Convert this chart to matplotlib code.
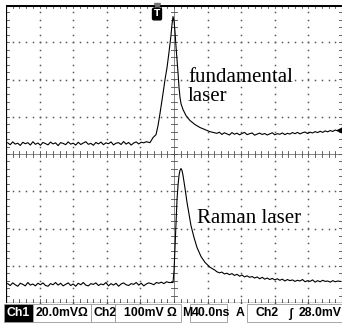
import numpy as np
import matplotlib
matplotlib.use("Agg")
import matplotlib.pyplot as plt
from matplotlib.patches import Rectangle

# 示波器设置
NS_PER_DIV = 40.0
CH1_MV_PER_DIV = 20.0
CH2_MV_PER_DIV = 100.0

# Ch1: 基频光 (时间 ns, 幅度 mV)
ch1_pre_t = np.arange(-198, -30, 3)
ch1_pre_mv = [0.4, -0.6, 0.9, -0.3, 0.2, -1.0, 0.7, -0.1, 0.5, -0.8,
              1.0, -0.4, 0.3, -0.9, 0.6, 0.0, -0.7, 0.8, -0.2, 0.4,
              -1.1, 0.5, 0.1, -0.6, 0.9, -0.3, 0.2, -0.8, 0.7, -0.5,
              0.3, 1.0, -0.4, 0.1, -0.9, 0.6, -0.2, 0.8, -0.6, 0.4,
              -0.1, 0.9, -0.7, 0.2, 0.5, -0.5, 1.1, -0.3, 0.6, -0.8,
              0.3, 0.9, -0.2, 0.7, 0.4, 1.0]
ch1_pulse_t = [-28.6, -25.0, -21.4, -19.0, -16.7, -13.1, -10.7, -8.3, -6.0, -3.6,
               -2.4, -1.2, 0.0, 1.2, 2.4, 3.6, 4.8, 6.0, 7.1, 8.3,
               10.7, 14.3, 19.0, 25.0, 31.0, 36.9, 42.8, 47.6]
ch1_pulse_mv = [0.5, 3.2, 4.8, 9.7, 16.1, 26.8, 34.4, 40.8, 48.9, 58.0,
                63.9, 68.2, 66.0, 60.0, 52.0, 45.0, 38.0, 30.0, 25.0, 21.5,
                18.3, 15.0, 12.4, 10.2, 8.6, 7.5, 6.4, 5.9]
ch1_tail_t = np.arange(51, 200, 3)
ch1_tail_mv = [5.5, 6.1, 4.9, 5.8, 5.2, 4.6, 5.9, 5.0, 5.6, 4.7,
               5.4, 6.0, 4.8, 5.3, 5.7, 4.5, 5.1, 5.6, 4.9, 5.4,
               4.6, 5.2, 5.8, 4.7, 5.3, 5.0, 5.7, 4.8, 5.5, 5.1,
               5.9, 5.3, 6.0, 5.2, 5.8, 6.2, 5.4, 6.1, 5.7, 6.4,
               5.9, 6.6, 6.0, 6.8, 6.3, 7.0, 6.5, 7.3, 6.8, 7.5]

# Ch2: 拉曼光
ch2_pre_t = np.arange(-198, -3, 3)
ch2_pre_mv = [2, -3, 4, -1, -5, 3, 0, -4, 5, -2,
              1, -4, 3, -1, 4, -3, -5, 2, -1, 5,
              -2, 3, -4, 0, 4, -3, 1, -5, 3, -1,
              5, -2, -4, 2, 0, 4, -3, 1, -1, 5,
              -4, 2, -2, 3, -5, 1, 4, -1, -3, 2,
              0, 5, -2, 3, -4, 1, 4, 2, -1, 5,
              3, 6, 2, 7, 5]
ch2_pulse_t = [-1.2, 0.0, 1.2, 2.4, 3.6, 4.8, 6.0, 7.1, 8.3, 9.5,
               10.7, 13.1, 15.5, 17.9, 20.2, 23.8, 27.4, 32.1, 36.9, 42.8, 48.8]
ch2_pulse_mv = [5, 35, 99, 169, 228, 266, 293, 306, 311, 306,
                293, 258, 220, 188, 158, 126, 99, 75, 59, 46, 38]
ch2_tail_t = np.arange(51, 200, 3)
ch2_tail_mv = [34, 31, 33, 28, 30, 26, 29, 24, 27, 22,
               25, 20, 23, 19, 21, 17, 20, 15, 19, 14,
               17, 13, 16, 12, 15, 11, 14, 9, 13, 10,
               12, 8, 11, 9, 13, 7, 10, 8, 12, 6,
               10, 7, 11, 8, 9, 6, 10, 7, 9, 8]

# 各通道基线在屏幕上的位置 (格)
CH1_OFFSET = 0.28
CH2_OFFSET = -3.5

W, H = 342, 325
fig = plt.figure(figsize=(W / 100, H / 100), dpi=100)
fig.patch.set_facecolor("white")

# 屏幕区域 (像素): 左6 右342 上5 下303
L, R, T, B = 6, 342, 5, 303
ax = fig.add_axes([L / W, (H - B) / H, (R - L) / W, (B - T) / H])
ax.set_xlim(-5, 5)
ax.set_ylim(-4, 4)
ax.set_xticks([])
ax.set_yticks([])
for s in ax.spines.values():
    s.set_visible(False)

grid_c = "0.35"
fine_x = np.arange(-5, 5.01, 0.2)
fine_y = np.arange(-4, 4.01, 0.2)
# 点状网格
for gx in range(-4, 5):
    if gx == 0:
        continue
    ax.plot(np.full_like(fine_y, gx), fine_y, ls="none", marker="s", ms=1.1,
            mec="none", color=grid_c)
for gy in range(-3, 4):
    if gy == 0:
        continue
    ax.plot(fine_x, np.full_like(fine_x, gy), ls="none", marker="s", ms=1.1,
            mec="none", color=grid_c)
# 中心十字线和刻度
ax.axhline(0, color="0.45", lw=0.6)
ax.axvline(0, color="0.45", lw=0.6)
for fx in fine_x:
    ax.plot([fx, fx], [-0.08, 0.08], color="0.3", lw=0.6)
    ax.plot([fx, fx], [3.92, 4], color="0.3", lw=0.6)
    ax.plot([fx, fx], [-4, -3.9], color="0.3", lw=0.6)
for fy in fine_y:
    ax.plot([-0.09, 0.09], [fy, fy], color="0.3", lw=0.6)
    ax.plot([-5, -4.91], [fy, fy], color="0.3", lw=0.6)
    ax.plot([4.91, 5], [fy, fy], color="0.3", lw=0.6)
# 边框
ax.plot([-5, 5], [4, 4], color="black", lw=2.2, solid_capstyle="butt")
ax.plot([-5, -5], [-4, 4], color="black", lw=1.6, solid_capstyle="butt")
ax.plot([-5, 5], [-4, -4], color="black", lw=1.0)
ax.plot([5, 5], [-4, 4], color="0.6", lw=0.8)

# 波形
ch1_t = np.concatenate([ch1_pre_t, ch1_pulse_t, ch1_tail_t])
ch1_v = np.concatenate([ch1_pre_mv, ch1_pulse_mv, ch1_tail_mv])
ch2_t = np.concatenate([ch2_pre_t, ch2_pulse_t, ch2_tail_t])
ch2_v = np.concatenate([ch2_pre_mv, ch2_pulse_mv, ch2_tail_mv])
ax.plot(ch1_t / NS_PER_DIV, CH1_OFFSET + ch1_v / CH1_MV_PER_DIV, color="black", lw=0.8)
ax.plot(ch2_t / NS_PER_DIV, CH2_OFFSET + ch2_v / CH2_MV_PER_DIV, color="black", lw=0.8)
ax.plot([4.93], [CH1_OFFSET + ch1_tail_mv[-1] / CH1_MV_PER_DIV], marker="<", ms=4,
        color="black")

# 标注
serif = "Liberation Serif"
ax.text(0.42, 1.92, "fundamental", family=serif, fontsize=15, ha="left", va="baseline")
ax.text(0.42, 1.41, "laser", family=serif, fontsize=15, ha="left", va="baseline")
ax.text(0.68, -1.86, "Raman laser", family=serif, fontsize=15, ha="left", va="baseline")

# 覆盖层 (像素坐标): 触发标记和状态栏
ov = fig.add_axes([0, 0, 1, 1], facecolor="none")
ov.set_xlim(0, W)
ov.set_ylim(H, 0)
ov.axis("off")

ov.plot([157], [6], marker="v", ms=4, color="0.45")
ov.text(157, 14, "T", fontsize=6.5, weight="bold", color="white", ha="center",
        va="center", family="DejaVu Sans",
        bbox=dict(boxstyle="round,pad=0.15", fc="black", ec="black"))

bar_font = dict(family="Liberation Sans", weight="bold", fontsize=8.8, va="center")
y0, y1 = 304, 322
ym = (y0 + y1) / 2 + 0.5
boxes = [(4, 33), (33, 91), (91, 115), (115, 181), (190, 227), (247, 345)]
for i, (bx0, bx1) in enumerate(boxes):
    ov.add_patch(Rectangle((bx0, y0), bx1 - bx0, y1 - y0, fc="black" if i == 0 else "white",
                           ec="0.6", lw=0.6))
labels = [(6.5, "Ch1", "white"), (36, "20.0mVΩ", "black"), (93, "Ch2", "black"),
          (124, "100mV Ω", "black"), (182.5, "M", "black"), (192, "40.0ns", "black"),
          (236, "A", "black"), (256, "Ch2", "black"), (288, "ʃ", "black"),
          (299, "28.0mV", "black")]
for lx, s, c in labels:
    ov.text(lx, ym, s, color=c, ha="left", **bar_font)

fig.savefig("out.png", dpi=100)
